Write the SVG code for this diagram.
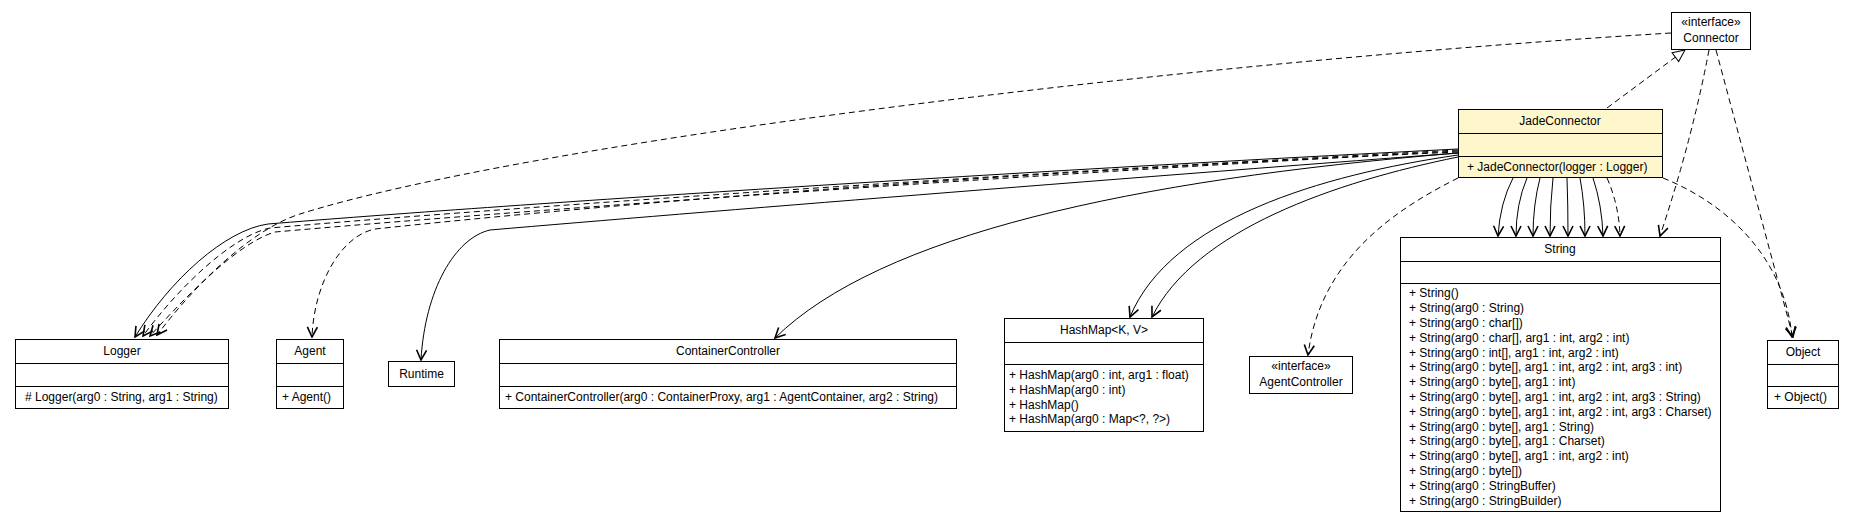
<svg xmlns="http://www.w3.org/2000/svg" width="1855" height="523" viewBox="0 0 1855 523">
<style>
.box{fill:#fff;stroke:#000;stroke-width:1}
.jade{fill:#fff7cc}
.sep{stroke:#000;stroke-width:1}
.t{font-family:"Liberation Sans",Arial,sans-serif;font-size:12px;fill:#000}
.c{text-anchor:middle}
.solid{fill:none;stroke:#000;stroke-width:1}
.dash{fill:none;stroke:#000;stroke-width:1;stroke-dasharray:6,4}
</style>
<defs>
<marker id="arr" viewBox="0 0 12 12" refX="11" refY="6" markerWidth="12" markerHeight="12" orient="auto" markerUnits="userSpaceOnUse">
<path d="M1,1 L11,6 L1,11" fill="none" stroke="#000" stroke-width="1.6" stroke-dasharray="none"/>
</marker>
<marker id="tri" viewBox="0 0 14 14" refX="13" refY="7" markerWidth="14" markerHeight="14" orient="auto" markerUnits="userSpaceOnUse">
<path d="M1,1.5 L13,7 L1,12.5 Z" fill="#fff" stroke="#000" stroke-width="1" stroke-dasharray="none"/>
</marker>
</defs>
<rect width="1855" height="523" fill="#fff"/>

<g id="connectors">
<path class="dash" d="M1607,108 L1685,50" marker-end="url(#tri)"/>
<path class="dash" d="M1671,33 C1150,65 520,145 300,214 C250,230 195,285 157,335" marker-end="url(#arr)"/>
<path class="solid" d="M1458,149 C1000,172 500,205 268,224 C225,230 170,280 135,337" marker-end="url(#arr)"/>
<path class="dash" d="M1458,150 C1000,174 500,208 270,228 C232,236 178,288 143,336" marker-end="url(#arr)"/>
<path class="dash" d="M1458,151 C1000,176 500,212 275,232 C240,242 190,292 150,336" marker-end="url(#arr)"/>
<path class="dash" d="M1458,152 C1000,172 600,205 375,229 C340,236 314,285 312,337" marker-end="url(#arr)"/>
<path class="solid" d="M1458,153 C1100,180 700,212 490,230 C455,238 425,290 421,360" marker-end="url(#arr)"/>
<path class="solid" d="M1458,153 C1130,180 880,235 775,338" marker-end="url(#arr)"/>
<path class="solid" d="M1458,155 C1320,175 1170,220 1130,317" marker-end="url(#arr)"/>
<path class="solid" d="M1458,157 C1335,182 1195,230 1152,317" marker-end="url(#arr)"/>
<path class="dash" d="M1458,178 C1390,212 1320,262 1308,355" marker-end="url(#arr)"/>
<path class="solid" d="M1513,178 Q1500,203 1498,236" marker-end="url(#arr)"/>
<path class="solid" d="M1527,178 Q1516,204 1516,236" marker-end="url(#arr)"/>
<path class="solid" d="M1540,178 Q1533,205 1533,236" marker-end="url(#arr)"/>
<path class="solid" d="M1553,178 Q1550,205 1550,236" marker-end="url(#arr)"/>
<path class="solid" d="M1567,178 Q1568,205 1568,236" marker-end="url(#arr)"/>
<path class="solid" d="M1580,178 Q1585,205 1585,236" marker-end="url(#arr)"/>
<path class="solid" d="M1593,178 Q1602,205 1603,236" marker-end="url(#arr)"/>
<path class="dash" d="M1607,178 Q1619,205 1620,236" marker-end="url(#arr)"/>
<path class="dash" d="M1709,50 Q1692,140 1660,236" marker-end="url(#arr)"/>
<path class="dash" d="M1716,50 L1793,337" marker-end="url(#arr)"/>
<path class="dash" d="M1663,178 C1730,205 1785,260 1792,337" marker-end="url(#arr)"/>
</g>

<g id="Connector">
<rect class="box" x="1671.5" y="12.5" width="79" height="37"/>
<text class="t c" x="1711" y="26" font-size="11">«interface»</text>
<text class="t c" x="1711" y="42">Connector</text>
</g>

<g id="JadeConnector">
<rect class="box jade" x="1458.5" y="109.5" width="204" height="68"/>
<line class="sep" x1="1458.5" y1="133.5" x2="1662.5" y2="133.5"/>
<line class="sep" x1="1458.5" y1="156.5" x2="1662.5" y2="156.5"/>
<text class="t c" x="1560" y="125">JadeConnector</text>
<text class="t" x="1467" y="171">+ JadeConnector(logger : Logger)</text>
</g>

<g id="Logger">
<rect class="box" x="15.5" y="339.5" width="213" height="69"/>
<line class="sep" x1="15.5" y1="363.5" x2="228.5" y2="363.5"/>
<line class="sep" x1="15.5" y1="386.5" x2="228.5" y2="386.5"/>
<text class="t c" x="122" y="355">Logger</text>
<text class="t" x="25" y="401"># Logger(arg0 : String, arg1 : String)</text>
</g>

<g id="Agent">
<rect class="box" x="276.5" y="339.5" width="67" height="69"/>
<line class="sep" x1="276.5" y1="363.5" x2="343.5" y2="363.5"/>
<line class="sep" x1="276.5" y1="386.5" x2="343.5" y2="386.5"/>
<text class="t c" x="310" y="355">Agent</text>
<text class="t" x="282" y="401">+ Agent()</text>
</g>

<g id="Runtime">
<rect class="box" x="388.5" y="361.5" width="66" height="25"/>
<text class="t c" x="421.5" y="378">Runtime</text>
</g>

<g id="ContainerController">
<rect class="box" x="499.5" y="339.5" width="457" height="69"/>
<line class="sep" x1="499.5" y1="363.5" x2="956.5" y2="363.5"/>
<line class="sep" x1="499.5" y1="386.5" x2="956.5" y2="386.5"/>
<text class="t c" x="728" y="355">ContainerController</text>
<text class="t" x="505" y="401">+ ContainerController(arg0 : ContainerProxy, arg1 : AgentContainer, arg2 : String)</text>
</g>

<g id="HashMap">
<rect class="box" x="1004.5" y="318.5" width="199" height="113"/>
<line class="sep" x1="1004.5" y1="342.5" x2="1203.5" y2="342.5"/>
<line class="sep" x1="1004.5" y1="364.5" x2="1203.5" y2="364.5"/>
<text class="t c" x="1104" y="334">HashMap&lt;K, V&gt;</text>
<text class="t" x="1009" y="379">+ HashMap(arg0 : int, arg1 : float)</text>
<text class="t" x="1009" y="393.8">+ HashMap(arg0 : int)</text>
<text class="t" x="1009" y="408.6">+ HashMap()</text>
<text class="t" x="1009" y="423.4">+ HashMap(arg0 : Map&lt;?, ?&gt;)</text>
</g>

<g id="AgentController">
<rect class="box" x="1249.5" y="356.5" width="103" height="37"/>
<text class="t c" x="1301" y="370" font-size="11">«interface»</text>
<text class="t c" x="1301" y="386">AgentController</text>
</g>

<g id="String">
<rect class="box" x="1400.5" y="237.5" width="320" height="274"/>
<line class="sep" x1="1400.5" y1="261.5" x2="1720.5" y2="261.5"/>
<line class="sep" x1="1400.5" y1="283.5" x2="1720.5" y2="283.5"/>
<text class="t c" x="1560" y="253">String</text>
<text class="t" x="1409" y="297.3">+ String()</text>
<text class="t" x="1409" y="312.1">+ String(arg0 : String)</text>
<text class="t" x="1409" y="326.9">+ String(arg0 : char[])</text>
<text class="t" x="1409" y="341.7">+ String(arg0 : char[], arg1 : int, arg2 : int)</text>
<text class="t" x="1409" y="356.5">+ String(arg0 : int[], arg1 : int, arg2 : int)</text>
<text class="t" x="1409" y="371.3">+ String(arg0 : byte[], arg1 : int, arg2 : int, arg3 : int)</text>
<text class="t" x="1409" y="386.1">+ String(arg0 : byte[], arg1 : int)</text>
<text class="t" x="1409" y="400.9">+ String(arg0 : byte[], arg1 : int, arg2 : int, arg3 : String)</text>
<text class="t" x="1409" y="415.7">+ String(arg0 : byte[], arg1 : int, arg2 : int, arg3 : Charset)</text>
<text class="t" x="1409" y="430.5">+ String(arg0 : byte[], arg1 : String)</text>
<text class="t" x="1409" y="445.3">+ String(arg0 : byte[], arg1 : Charset)</text>
<text class="t" x="1409" y="460.1">+ String(arg0 : byte[], arg1 : int, arg2 : int)</text>
<text class="t" x="1409" y="474.9">+ String(arg0 : byte[])</text>
<text class="t" x="1409" y="489.7">+ String(arg0 : StringBuffer)</text>
<text class="t" x="1409" y="504.5">+ String(arg0 : StringBuilder)</text>
</g>

<g id="Object">
<rect class="box" x="1767.5" y="340.5" width="71" height="68"/>
<line class="sep" x1="1767.5" y1="364.5" x2="1838.5" y2="364.5"/>
<line class="sep" x1="1767.5" y1="386.5" x2="1838.5" y2="386.5"/>
<text class="t c" x="1803" y="356">Object</text>
<text class="t" x="1774" y="401">+ Object()</text>
</g>
</svg>
